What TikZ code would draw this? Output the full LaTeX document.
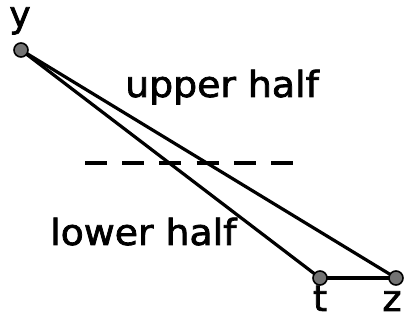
\documentclass[tikz,border=0pt]{standalone}
\usepackage{fontspec}
\setmainfont{DejaVu Sans}
\newfontfamily\lblfont[FakeBold=2]{DejaVu Sans}
\usetikzlibrary{positioning,backgrounds}
\tikzset{
dot/.style={
  circle,
  draw,
  line width=1.6pt,
  fill=black!55,
  minimum size=14pt,
  inner sep=0pt
  },
lbl/.style={
  inner sep=0pt,
  font=\fontsize{36}{36}\lblfont
  },
edge/.style={
  line width=3.2pt,
  line cap=round
  }
}
\begin{document}
\begin{tikzpicture}[x=1pt,y=-1pt]
\useasboundingbox (0,0) rectangle (405,320);

\node[dot] at (21,50) (y) {};
\node[dot] at (320,278) (t) {};
\node[dot] at (396,278) (z) {};

\node[lbl,anchor=base] at (20,27) (ylab) {y};
\node[lbl,anchor=base] at (320,311) (tlab) {t};
\node[lbl,anchor=base] at (392,311) (zlab) {z};

\node[lbl,anchor=base west,xscale=1.05] at (125,97) (upper) {upper half};
\node[lbl,anchor=base west,xscale=1.05] at (50,245) (lower) {lower half};

\coordinate (cut1) at (85,163);
\coordinate (cut2) at (293,163);
\draw[line width=4pt,dash pattern=on 22pt off 15.2pt]
  (cut1) -- (cut2);

\begin{scope}[on background layer]
\draw[edge]
  (y.center) -- (t.center);
\draw[edge]
  (y.center) -- (z.center);
\draw[edge]
  (t.center) -- (z.center);
\end{scope}
\end{tikzpicture}
\end{document}
